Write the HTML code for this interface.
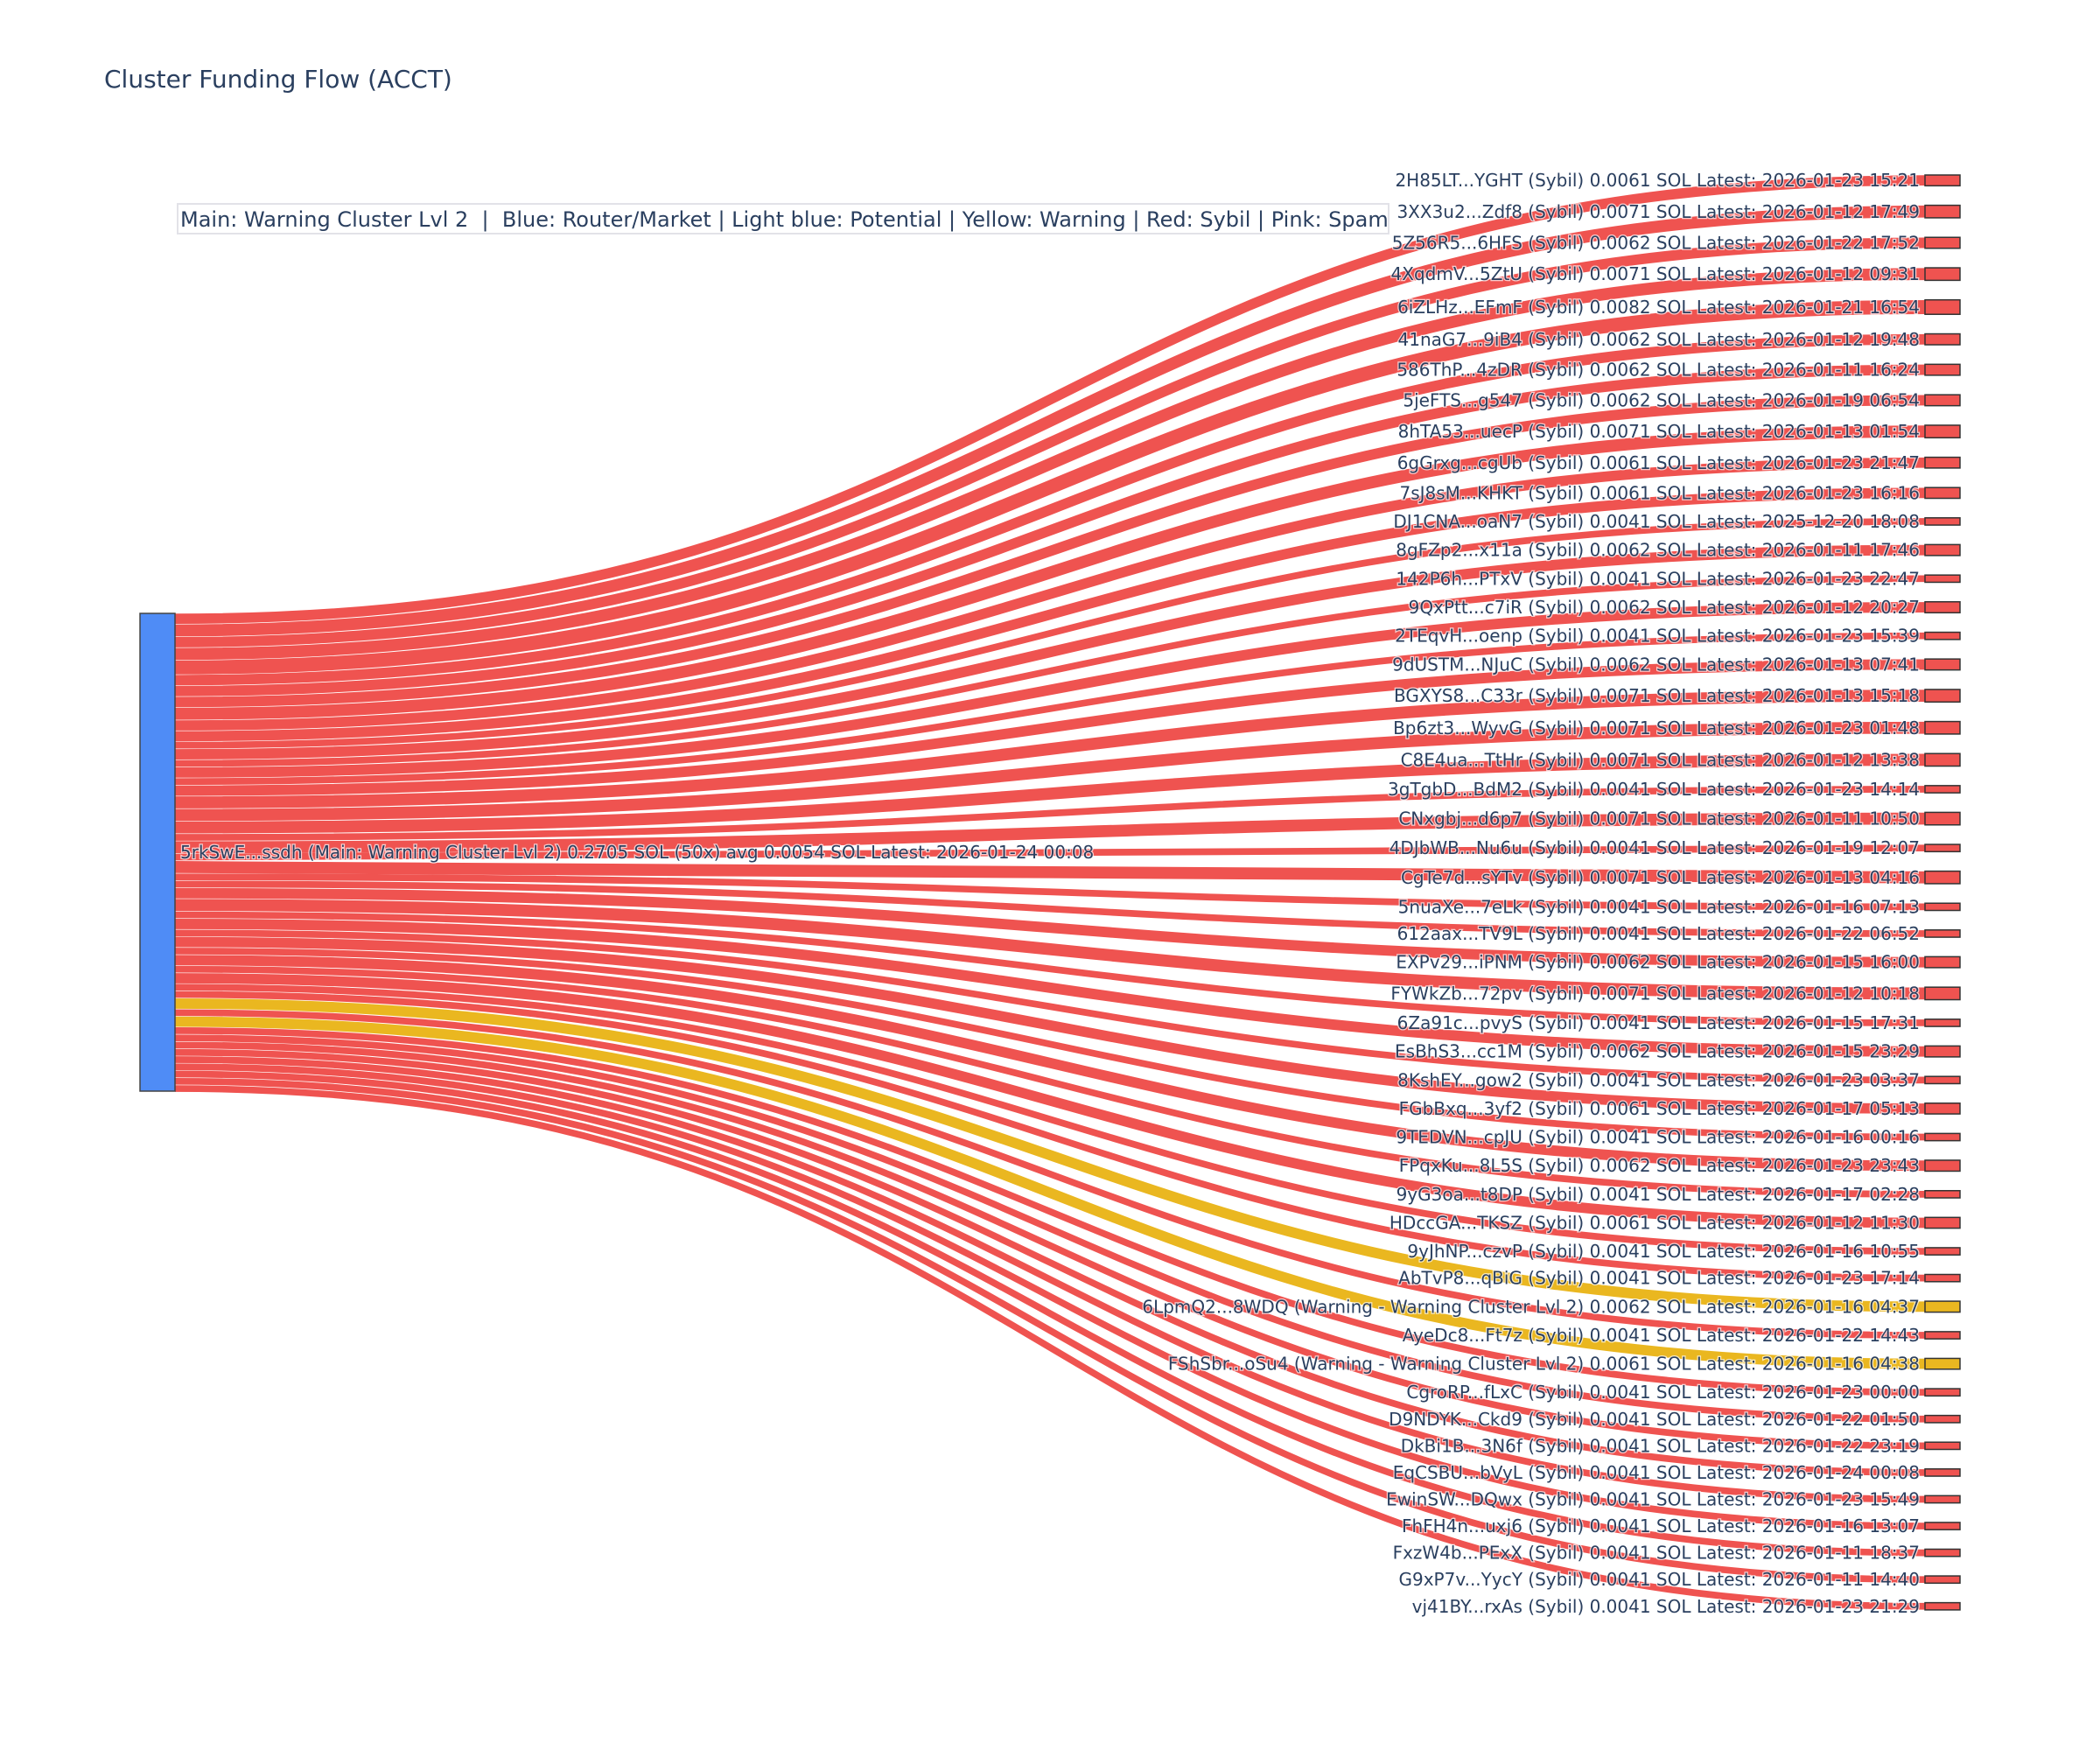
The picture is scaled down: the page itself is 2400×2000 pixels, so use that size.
<!DOCTYPE html>
<html><head><meta charset="utf-8"><style>
html,body{margin:0;padding:0;background:#fff;}
svg{display:block;}
text{font-family:"DejaVu Sans","Liberation Sans",sans-serif;fill:#2a3f5f;}
.l{font-size:20px;text-anchor:end;dominant-baseline:central;paint-order:stroke;stroke:#fff;stroke-width:2.5px;stroke-opacity:0.7;}
.r path{fill:none;stroke:#EF5350;}
.nd{fill:#EF5350;stroke:#333;stroke-width:1.5;}
</style></head><body>
<svg width="2400" height="2000" viewBox="0 0 2400 2000" xmlns="http://www.w3.org/2000/svg">
<rect width="2400" height="2000" fill="#fff"/>
<text x="119" y="100" style="font-size:28px">Cluster Funding Flow (ACCT)</text>
<g class="r">
<path d="M200,707.16 C1200,707.16 1200,206.16 2200,206.16" stroke-width="11.7"/>
<path d="M200,720.48 C1200,720.48 1200,241.78 2200,241.78" stroke-width="13.7"/>
<path d="M200,733.90 C1200,733.90 1200,277.50 2200,277.50" stroke-width="11.9"/>
<path d="M200,747.31 C1200,747.31 1200,313.22 2200,313.22" stroke-width="13.7"/>
<path d="M200,762.76 C1200,762.76 1200,350.96 2200,350.96" stroke-width="16.0"/>
<path d="M200,777.29 C1200,777.29 1200,387.79 2200,387.79" stroke-width="11.9"/>
<path d="M200,789.80 C1200,789.80 1200,422.60 2200,422.60" stroke-width="11.9"/>
<path d="M200,802.31 C1200,802.31 1200,457.41 2200,457.41" stroke-width="11.9"/>
<path d="M200,815.72 C1200,815.72 1200,493.13 2200,493.13" stroke-width="13.7"/>
<path d="M200,829.05 C1200,829.05 1200,528.75 2200,528.75" stroke-width="11.7"/>
<path d="M200,841.36 C1200,841.36 1200,563.36 2200,563.36" stroke-width="11.7"/>
<path d="M200,851.65 C1200,851.65 1200,595.95 2200,595.95" stroke-width="7.7"/>
<path d="M200,862.04 C1200,862.04 1200,628.64 2200,628.64" stroke-width="11.9"/>
<path d="M200,872.43 C1200,872.43 1200,661.33 2200,661.33" stroke-width="7.7"/>
<path d="M200,882.82 C1200,882.82 1200,694.02 2200,694.02" stroke-width="11.9"/>
<path d="M200,893.21 C1200,893.21 1200,726.71 2200,726.71" stroke-width="7.7"/>
<path d="M200,903.60 C1200,903.60 1200,759.40 2200,759.40" stroke-width="11.9"/>
<path d="M200,917.01 C1200,917.01 1200,795.12 2200,795.12" stroke-width="13.7"/>
<path d="M200,931.34 C1200,931.34 1200,831.75 2200,831.75" stroke-width="13.7"/>
<path d="M200,945.67 C1200,945.67 1200,868.38 2200,868.38" stroke-width="13.7"/>
<path d="M200,956.98 C1200,956.98 1200,901.98 2200,901.98" stroke-width="7.7"/>
<path d="M200,968.27 C1200,968.27 1200,935.58 2200,935.58" stroke-width="13.7"/>
<path d="M200,979.58 C1200,979.58 1200,969.18 2200,969.18" stroke-width="7.7"/>
<path d="M200,990.87 C1200,990.87 1200,1002.78 2200,1002.78" stroke-width="13.7"/>
<path d="M200,1002.18 C1200,1002.18 1200,1036.38 2200,1036.38" stroke-width="7.7"/>
<path d="M200,1010.45 C1200,1010.45 1200,1066.95 2200,1066.95" stroke-width="7.7"/>
<path d="M200,1020.84 C1200,1020.84 1200,1099.64 2200,1099.64" stroke-width="11.9"/>
<path d="M200,1034.25 C1200,1034.25 1200,1135.36 2200,1135.36" stroke-width="13.7"/>
<path d="M200,1045.56 C1200,1045.56 1200,1168.96 2200,1168.96" stroke-width="7.7"/>
<path d="M200,1055.95 C1200,1055.95 1200,1201.65 2200,1201.65" stroke-width="11.9"/>
<path d="M200,1066.34 C1200,1066.34 1200,1234.34 2200,1234.34" stroke-width="7.7"/>
<path d="M200,1076.63 C1200,1076.63 1200,1266.93 2200,1266.93" stroke-width="11.7"/>
<path d="M200,1086.92 C1200,1086.92 1200,1299.52 2200,1299.52" stroke-width="7.7"/>
<path d="M200,1097.31 C1200,1097.31 1200,1332.21 2200,1332.21" stroke-width="11.9"/>
<path d="M200,1107.70 C1200,1107.70 1200,1364.90 2200,1364.90" stroke-width="7.7"/>
<path d="M200,1117.99 C1200,1117.99 1200,1397.49 2200,1397.49" stroke-width="11.7"/>
<path d="M200,1128.28 C1200,1128.28 1200,1430.08 2200,1430.08" stroke-width="7.7"/>
<path d="M200,1136.55 C1200,1136.55 1200,1460.65 2200,1460.65" stroke-width="7.7"/>
<path d="M200,1146.94 C1200,1146.94 1200,1493.34 2200,1493.34" stroke-width="11.9" style="stroke:#EAB720"/>
<path d="M200,1157.33 C1200,1157.33 1200,1526.03 2200,1526.03" stroke-width="7.7"/>
<path d="M200,1167.62 C1200,1167.62 1200,1558.62 2200,1558.62" stroke-width="11.7" style="stroke:#EAB720"/>
<path d="M200,1177.91 C1200,1177.91 1200,1591.21 2200,1591.21" stroke-width="7.7"/>
<path d="M200,1186.18 C1200,1186.18 1200,1621.78 2200,1621.78" stroke-width="7.7"/>
<path d="M200,1194.45 C1200,1194.45 1200,1652.35 2200,1652.35" stroke-width="7.7"/>
<path d="M200,1202.72 C1200,1202.72 1200,1682.92 2200,1682.92" stroke-width="7.7"/>
<path d="M200,1210.99 C1200,1210.99 1200,1713.49 2200,1713.49" stroke-width="7.7"/>
<path d="M200,1219.26 C1200,1219.26 1200,1744.06 2200,1744.06" stroke-width="7.7"/>
<path d="M200,1227.53 C1200,1227.53 1200,1774.63 2200,1774.63" stroke-width="7.7"/>
<path d="M200,1235.80 C1200,1235.80 1200,1805.20 2200,1805.20" stroke-width="7.7"/>
<path d="M200,1244.07 C1200,1244.07 1200,1835.77 2200,1835.77" stroke-width="7.7"/>
</g>
<rect x="160" y="701" width="40" height="546" fill="#4F8CF6" stroke="#444" stroke-width="1.5"/>
<g>
<rect class="nd" x="2200" y="200.00" width="40" height="12.31"/>
<rect class="nd" x="2200" y="234.61" width="40" height="14.33"/>
<rect class="nd" x="2200" y="271.24" width="40" height="12.51"/>
<rect class="nd" x="2200" y="306.05" width="40" height="14.33"/>
<rect class="nd" x="2200" y="342.68" width="40" height="16.55"/>
<rect class="nd" x="2200" y="381.53" width="40" height="12.51"/>
<rect class="nd" x="2200" y="416.34" width="40" height="12.51"/>
<rect class="nd" x="2200" y="451.15" width="40" height="12.51"/>
<rect class="nd" x="2200" y="485.96" width="40" height="14.33"/>
<rect class="nd" x="2200" y="522.59" width="40" height="12.31"/>
<rect class="nd" x="2200" y="557.20" width="40" height="12.31"/>
<rect class="nd" x="2200" y="591.81" width="40" height="8.27"/>
<rect class="nd" x="2200" y="622.38" width="40" height="12.51"/>
<rect class="nd" x="2200" y="657.19" width="40" height="8.27"/>
<rect class="nd" x="2200" y="687.76" width="40" height="12.51"/>
<rect class="nd" x="2200" y="722.57" width="40" height="8.27"/>
<rect class="nd" x="2200" y="753.14" width="40" height="12.51"/>
<rect class="nd" x="2200" y="787.95" width="40" height="14.33"/>
<rect class="nd" x="2200" y="824.58" width="40" height="14.33"/>
<rect class="nd" x="2200" y="861.21" width="40" height="14.33"/>
<rect class="nd" x="2200" y="897.84" width="40" height="8.27"/>
<rect class="nd" x="2200" y="928.41" width="40" height="14.33"/>
<rect class="nd" x="2200" y="965.04" width="40" height="8.27"/>
<rect class="nd" x="2200" y="995.61" width="40" height="14.33"/>
<rect class="nd" x="2200" y="1032.24" width="40" height="8.27"/>
<rect class="nd" x="2200" y="1062.81" width="40" height="8.27"/>
<rect class="nd" x="2200" y="1093.38" width="40" height="12.51"/>
<rect class="nd" x="2200" y="1128.19" width="40" height="14.33"/>
<rect class="nd" x="2200" y="1164.82" width="40" height="8.27"/>
<rect class="nd" x="2200" y="1195.39" width="40" height="12.51"/>
<rect class="nd" x="2200" y="1230.20" width="40" height="8.27"/>
<rect class="nd" x="2200" y="1260.77" width="40" height="12.31"/>
<rect class="nd" x="2200" y="1295.38" width="40" height="8.27"/>
<rect class="nd" x="2200" y="1325.95" width="40" height="12.51"/>
<rect class="nd" x="2200" y="1360.76" width="40" height="8.27"/>
<rect class="nd" x="2200" y="1391.33" width="40" height="12.31"/>
<rect class="nd" x="2200" y="1425.94" width="40" height="8.27"/>
<rect class="nd" x="2200" y="1456.51" width="40" height="8.27"/>
<rect class="nd" x="2200" y="1487.08" width="40" height="12.51" style="fill:#EAB720"/>
<rect class="nd" x="2200" y="1521.89" width="40" height="8.27"/>
<rect class="nd" x="2200" y="1552.46" width="40" height="12.31" style="fill:#EAB720"/>
<rect class="nd" x="2200" y="1587.07" width="40" height="8.27"/>
<rect class="nd" x="2200" y="1617.64" width="40" height="8.27"/>
<rect class="nd" x="2200" y="1648.21" width="40" height="8.27"/>
<rect class="nd" x="2200" y="1678.78" width="40" height="8.27"/>
<rect class="nd" x="2200" y="1709.35" width="40" height="8.27"/>
<rect class="nd" x="2200" y="1739.92" width="40" height="8.27"/>
<rect class="nd" x="2200" y="1770.49" width="40" height="8.27"/>
<rect class="nd" x="2200" y="1801.06" width="40" height="8.27"/>
<rect class="nd" x="2200" y="1831.63" width="40" height="8.27"/>
</g>
<g>
<text class="l" x="2194" y="206.16">2H85LT...YGHT (Sybil) 0.0061 SOL Latest: 2026-01-23 15:21</text>
<text class="l" x="2194" y="241.78">3XX3u2...Zdf8 (Sybil) 0.0071 SOL Latest: 2026-01-12 17:49</text>
<text class="l" x="2194" y="277.50">5Z56R5...6HFS (Sybil) 0.0062 SOL Latest: 2026-01-22 17:52</text>
<text class="l" x="2194" y="313.22">4XqdmV...5ZtU (Sybil) 0.0071 SOL Latest: 2026-01-12 09:31</text>
<text class="l" x="2194" y="350.96">6iZLHz...EFmF (Sybil) 0.0082 SOL Latest: 2026-01-21 16:54</text>
<text class="l" x="2194" y="387.79">41naG7...9iB4 (Sybil) 0.0062 SOL Latest: 2026-01-12 19:48</text>
<text class="l" x="2194" y="422.60">586ThP...4zDR (Sybil) 0.0062 SOL Latest: 2026-01-11 16:24</text>
<text class="l" x="2194" y="457.41">5jeFTS...g547 (Sybil) 0.0062 SOL Latest: 2026-01-19 06:54</text>
<text class="l" x="2194" y="493.13">8hTA53...uecP (Sybil) 0.0071 SOL Latest: 2026-01-13 01:54</text>
<text class="l" x="2194" y="528.75">6gGrxg...cgUb (Sybil) 0.0061 SOL Latest: 2026-01-23 21:47</text>
<text class="l" x="2194" y="563.36">7sJ8sM...KHKT (Sybil) 0.0061 SOL Latest: 2026-01-23 16:16</text>
<text class="l" x="2194" y="595.95">DJ1CNA...oaN7 (Sybil) 0.0041 SOL Latest: 2025-12-20 18:08</text>
<text class="l" x="2194" y="628.64">8gFZp2...x11a (Sybil) 0.0062 SOL Latest: 2026-01-11 17:46</text>
<text class="l" x="2194" y="661.33">142P6h...PTxV (Sybil) 0.0041 SOL Latest: 2026-01-23 22:47</text>
<text class="l" x="2194" y="694.02">9QxPtt...c7iR (Sybil) 0.0062 SOL Latest: 2026-01-12 20:27</text>
<text class="l" x="2194" y="726.71">2TEqvH...oenp (Sybil) 0.0041 SOL Latest: 2026-01-23 15:39</text>
<text class="l" x="2194" y="759.40">9dUSTM...NJuC (Sybil) 0.0062 SOL Latest: 2026-01-13 07:41</text>
<text class="l" x="2194" y="795.12">BGXYS8...C33r (Sybil) 0.0071 SOL Latest: 2026-01-13 15:18</text>
<text class="l" x="2194" y="831.75">Bp6zt3...WyvG (Sybil) 0.0071 SOL Latest: 2026-01-23 01:48</text>
<text class="l" x="2194" y="868.38">C8E4ua...TtHr (Sybil) 0.0071 SOL Latest: 2026-01-12 13:38</text>
<text class="l" x="2194" y="901.98">3gTgbD...BdM2 (Sybil) 0.0041 SOL Latest: 2026-01-23 14:14</text>
<text class="l" x="2194" y="935.58">CNxgbj...d6p7 (Sybil) 0.0071 SOL Latest: 2026-01-11 10:50</text>
<text class="l" x="2194" y="969.18">4DJbWB...Nu6u (Sybil) 0.0041 SOL Latest: 2026-01-19 12:07</text>
<text class="l" x="2194" y="1002.78">CgTe7d...sYTv (Sybil) 0.0071 SOL Latest: 2026-01-13 04:16</text>
<text class="l" x="2194" y="1036.38">5nuaXe...7eLk (Sybil) 0.0041 SOL Latest: 2026-01-16 07:13</text>
<text class="l" x="2194" y="1066.95">612aax...TV9L (Sybil) 0.0041 SOL Latest: 2026-01-22 06:52</text>
<text class="l" x="2194" y="1099.64">EXPv29...iPNM (Sybil) 0.0062 SOL Latest: 2026-01-15 16:00</text>
<text class="l" x="2194" y="1135.36">FYWkZb...72pv (Sybil) 0.0071 SOL Latest: 2026-01-12 10:18</text>
<text class="l" x="2194" y="1168.96">6Za91c...pvyS (Sybil) 0.0041 SOL Latest: 2026-01-15 17:31</text>
<text class="l" x="2194" y="1201.65">EsBhS3...cc1M (Sybil) 0.0062 SOL Latest: 2026-01-15 23:29</text>
<text class="l" x="2194" y="1234.34">8KshEY...gow2 (Sybil) 0.0041 SOL Latest: 2026-01-23 03:37</text>
<text class="l" x="2194" y="1266.93">FGbBxq...3yf2 (Sybil) 0.0061 SOL Latest: 2026-01-17 05:13</text>
<text class="l" x="2194" y="1299.52">9TEDVN...cpJU (Sybil) 0.0041 SOL Latest: 2026-01-16 00:16</text>
<text class="l" x="2194" y="1332.21">FPqxKu...8L5S (Sybil) 0.0062 SOL Latest: 2026-01-23 23:43</text>
<text class="l" x="2194" y="1364.90">9yG3oa...t8DP (Sybil) 0.0041 SOL Latest: 2026-01-17 02:28</text>
<text class="l" x="2194" y="1397.49">HDccGA...TKSZ (Sybil) 0.0061 SOL Latest: 2026-01-12 11:30</text>
<text class="l" x="2194" y="1430.08">9yJhNP...czvP (Sybil) 0.0041 SOL Latest: 2026-01-16 10:55</text>
<text class="l" x="2194" y="1460.65">AbTvP8...qBiG (Sybil) 0.0041 SOL Latest: 2026-01-23 17:14</text>
<text class="l" x="2194" y="1493.34">6LpmQ2...8WDQ (Warning - Warning Cluster Lvl 2) 0.0062 SOL Latest: 2026-01-16 04:37</text>
<text class="l" x="2194" y="1526.03">AyeDc8...Ft7z (Sybil) 0.0041 SOL Latest: 2026-01-22 14:43</text>
<text class="l" x="2194" y="1558.62">FShSbr...oSu4 (Warning - Warning Cluster Lvl 2) 0.0061 SOL Latest: 2026-01-16 04:38</text>
<text class="l" x="2194" y="1591.21">CgroRP...fLxC (Sybil) 0.0041 SOL Latest: 2026-01-23 00:00</text>
<text class="l" x="2194" y="1621.78">D9NDYK...Ckd9 (Sybil) 0.0041 SOL Latest: 2026-01-22 01:50</text>
<text class="l" x="2194" y="1652.35">DkBi1B...3N6f (Sybil) 0.0041 SOL Latest: 2026-01-22 23:19</text>
<text class="l" x="2194" y="1682.92">EqCSBU...bVyL (Sybil) 0.0041 SOL Latest: 2026-01-24 00:08</text>
<text class="l" x="2194" y="1713.49">EwinSW...DQwx (Sybil) 0.0041 SOL Latest: 2026-01-23 15:49</text>
<text class="l" x="2194" y="1744.06">FhFH4n...uxj6 (Sybil) 0.0041 SOL Latest: 2026-01-16 13:07</text>
<text class="l" x="2194" y="1774.63">FxzW4b...PExX (Sybil) 0.0041 SOL Latest: 2026-01-11 18:37</text>
<text class="l" x="2194" y="1805.20">G9xP7v...YycY (Sybil) 0.0041 SOL Latest: 2026-01-11 14:40</text>
<text class="l" x="2194" y="1835.77">vj41BY...rxAs (Sybil) 0.0041 SOL Latest: 2026-01-23 21:29</text>
<text class="l" x="206" y="974" style="text-anchor:start">5rkSwE...ssdh (Main: Warning Cluster Lvl 2) 0.2705 SOL (50x) avg 0.0054 SOL Latest: 2026-01-24 00:08</text>
</g>
<rect x="203" y="233" width="1384" height="34" fill="#fff" stroke="#e2e2e8" stroke-width="2"/>
<text x="206" y="259" style="font-size:24px" xml:space="preserve">Main: Warning Cluster Lvl 2  |  Blue: Router/Market | Light blue: Potential | Yellow: Warning | Red: Sybil | Pink: Spam</text>
</svg>
</body></html>
